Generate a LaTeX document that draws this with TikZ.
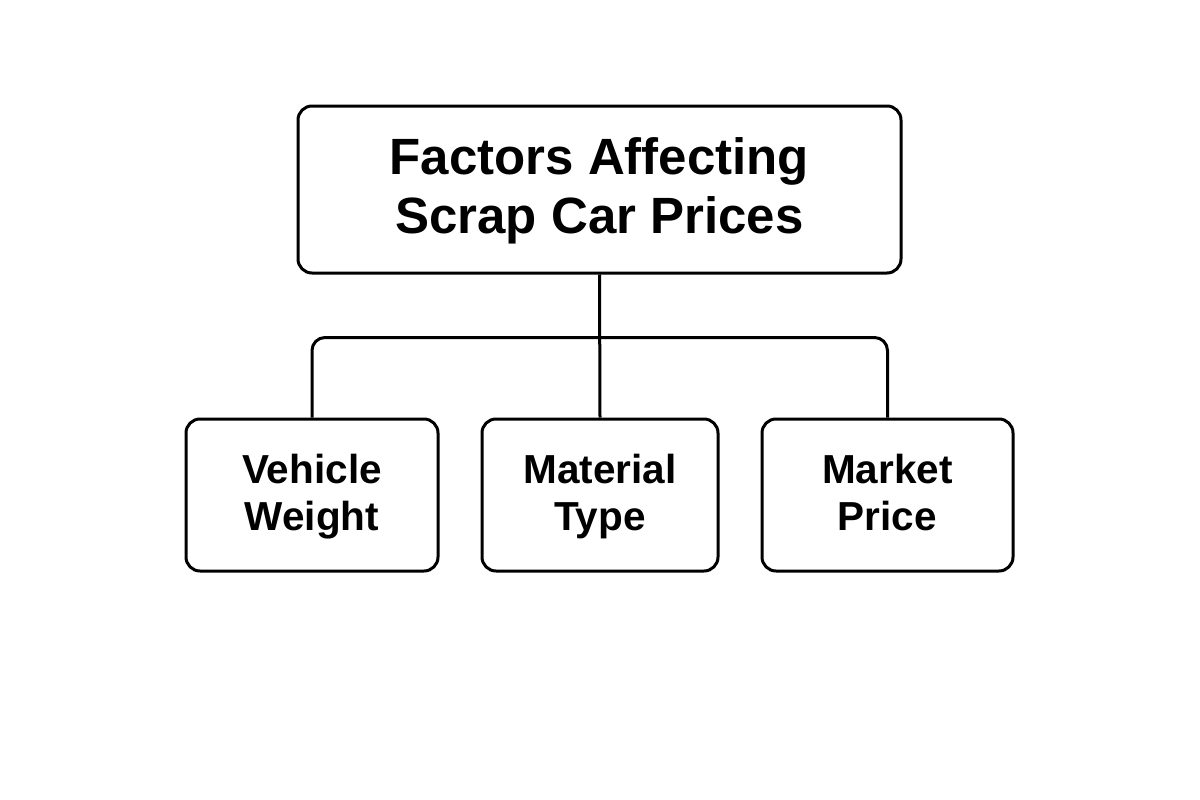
\documentclass[tikz,border=0pt]{standalone}
\usepackage{fontspec}
\setmainfont{Liberation Sans}
\begin{document}
\begin{tikzpicture}[x=1pt,y=-1pt,
  box/.style={draw=black, line width=3pt, rounded corners=14pt, fill=white, align=center, inner sep=0pt, font=\bfseries},
  conn/.style={draw=black, line width=3pt, rounded corners=13pt}]
  \fill[white] (0,0) rectangle (1200,800);
  \useasboundingbox (0,0) rectangle (1200,800);
  \node[box, minimum width=603pt, minimum height=167pt, font=\fontsize{51}{59}\selectfont\bfseries] (top) at (599.5,189.5) {\rule{0pt}{47pt}Factors Affecting\\Scrap Car Prices\strut};
  \node[box, minimum width=252pt, minimum height=152pt, font=\fontsize{40.5}{47}\selectfont\bfseries] (v) at (312,495) {\rule{0pt}{39pt}Vehicle\\Weight\strut};
  \node[box, minimum width=236pt, minimum height=152pt, font=\fontsize{40.5}{47}\selectfont\bfseries] (m) at (600,495) {\rule{0pt}{39pt}Material\\Type\strut};
  \node[box, minimum width=251pt, minimum height=152pt, font=\fontsize{40.5}{47}\selectfont\bfseries] (p) at (887.5,495) {\rule{0pt}{39pt}Market\\Price\strut};
  \draw[conn] (top.south) -- (m.north);
  \draw[conn] (v.north) -- ++(0,-80) -| (p.north);
\end{tikzpicture}
\end{document}
